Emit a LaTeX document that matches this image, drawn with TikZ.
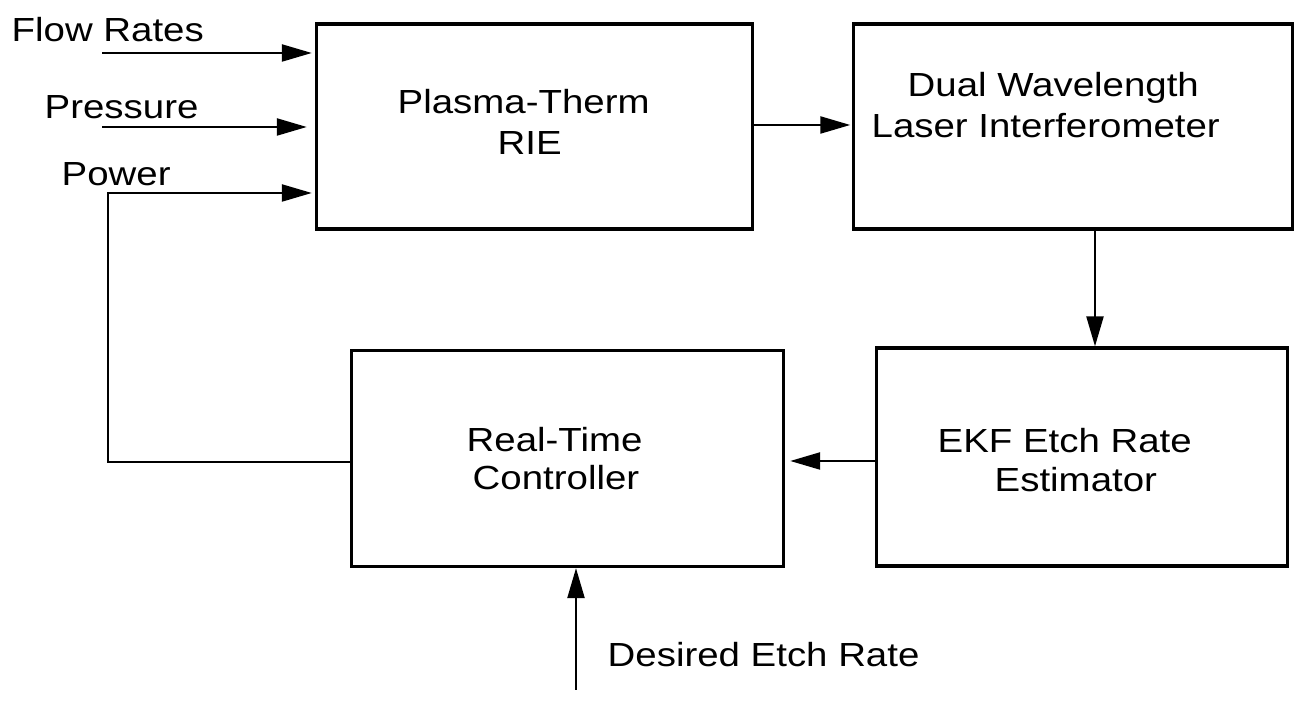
\documentclass[tikz,border=0pt]{standalone}
\usepackage{fontspec}
\newfontfamily\lblfont[FakeStretch=1.15]{Liberation Sans}
\usetikzlibrary{arrows.meta, positioning, calc}

\begin{document}
\begin{tikzpicture}[x=0.01cm, y=-0.01cm, >={Triangle[length=0.3cm, width=0.17cm]},
        blk/.style={draw=black, line width=0.9pt, minimum height=2.05cm, inner sep=0pt},
        lbl/.style={inner sep=0pt, anchor=base west, font=\lblfont\fontsize{9.5}{11.7}\selectfont},
        sig/.style={->, line width=0.65pt}]
        \useasboundingbox (0,0) rectangle (1308,701);

        % Blocks
        \node[blk, minimum width=4.36cm] (rie) at (534.5,126.5) {};
        \node[blk, minimum width=4.38cm] (laser) at (1073,126.5) {};
        \node[blk, minimum width=4.11cm, minimum height=2.18cm] (ekf) at (1082,457) {};
        \node[blk, minimum width=4.32cm, minimum height=2.16cm] (ctrl) at (567.5,458.5) {};

        % Block texts
        \node[lbl] (rieA) at (397,114) {Plasma-Therm};
        \node[lbl] (rieB) at (497,155) {RIE};
        \node[lbl] (laserA) at (907,97) {Dual Wavelength};
        \node[lbl] (laserB) at (871,138) {Laser Interferometer};
        \node[lbl] (ekfA) at (937,453) {EKF Etch Rate};
        \node[lbl] (ekfB) at (994,492) {Estimator};
        \node[lbl] (ctrlA) at (466,452) {Real-Time};
        \node[lbl] (ctrlB) at (472,490) {Controller};

        % Inputs
        \node[lbl] (flow) at (11,42) {Flow Rates};
        \node[lbl] (press) at (44,119) {Pressure};
        \node[lbl] (power) at (61,186) {Power};
        \node[lbl] (desired) at (607,667) {Desired Etch Rate};
        \coordinate (flowin) at (102,53);
        \coordinate (pressin) at (102,127);
        \coordinate (bend) at (108,193);
        \coordinate (ratein) at (576,690);

        % Paths
        \draw[sig, shorten >=0.03cm] (flowin) -- (flowin -| rie.west);
        \draw[sig, shorten >=0.08cm] (pressin) -- (pressin -| rie.west);
        \draw[sig, shorten >=0.03cm] (ctrl.west |- 0,462) -- (bend |- 0,462) -- (bend) -- (bend -| rie.west);
        \draw[sig, shorten >=0.02cm] (rie.east |- 0,125) -- (laser.west |- 0,125);
        \draw[sig] (laser.south -| 1095,0) -- (ekf.north -| 1095,0);
        \draw[sig, shorten >=0.05cm] (ekf.west |- 0,461) -- (ctrl.east |- 0,461);
        \draw[sig] (ratein) -- (ratein |- ctrl.south);
    \end{tikzpicture}
\end{document}
